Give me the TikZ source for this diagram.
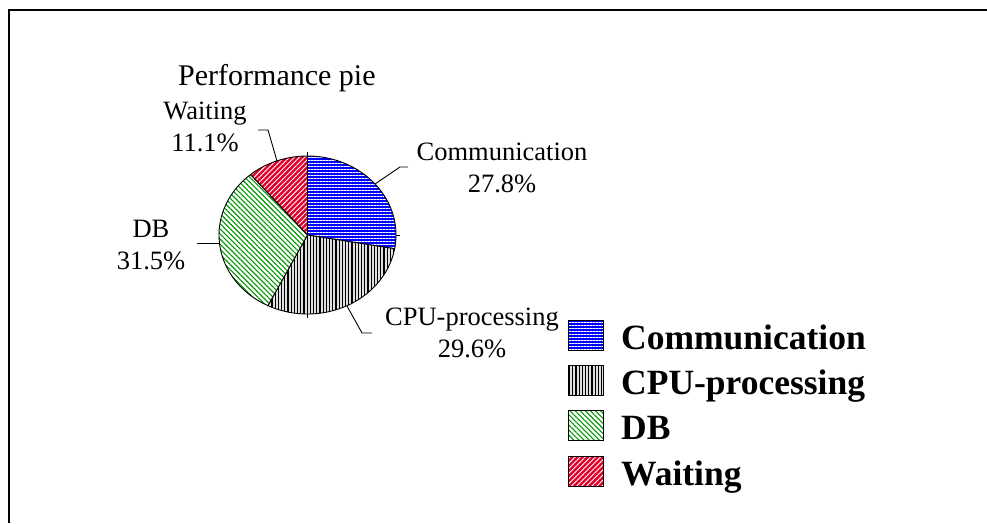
\documentclass[tikz,border=0pt]{standalone}
\usepackage{fontspec}
\setmainfont{Liberation Serif}
\usetikzlibrary{patterns.meta}
\definecolor{commblue}{RGB}{0,0,255}
\definecolor{waitred}{RGB}{225,0,45}
\definecolor{dbgreen}{RGB}{0,150,0}
\definecolor{cpugray}{RGB}{225,225,225}
\tikzset{
  commsty/.style={preaction={fill=commblue}, pattern={Lines[angle=0,distance=3pt,line width=0.9pt]}, pattern color=white},
  cpusty/.style={preaction={fill=cpugray}, pattern={Lines[angle=90,distance=3.2pt,line width=1.3pt]}, pattern color=black},
  dbsty/.style={preaction={fill=white}, pattern={Lines[angle=-45,distance=3.6pt,line width=1.1pt]}, pattern color=dbgreen},
  waitsty/.style={preaction={fill=waitred}, pattern={Lines[angle=45,distance=3.6pt,line width=0.9pt]}, pattern color=white},
  slice/.style={draw=black, line width=0.9pt, line join=round},
  lbl/.style={font=\fontsize{26.5}{32}\selectfont, align=center, inner sep=0pt},
  leader/.style={draw=black, line width=0.9pt},
  swatch/.style={draw=black, line width=0.9pt, minimum width=35pt, minimum height=30pt, inner sep=0pt},
  legtext/.style={font=\bfseries\fontsize{35.5}{40}\selectfont, anchor=base west, inner sep=0pt},
}
\begin{document}
\begin{tikzpicture}[x=1pt,y=-1pt]
\useasboundingbox (0,0) rectangle (987,523);
% frame
\draw[line width=1.6pt] (9,523) -- (9,10) -- (987,10);
% title
\node[font=\fontsize{30}{36}\selectfont, anchor=base west, inner sep=0pt] (title) at (178,85) {Performance pie};
% pie
\coordinate (c) at (307.5,235);
\path[slice, commsty] (c) -- ++(90:88.5pt and 79pt) arc[start angle=90, end angle=-10, x radius=88.5pt, y radius=79pt] -- cycle;
\path[slice, cpusty] (c) -- ++(-10:88.5pt and 79pt) arc[start angle=-10, end angle=-116.56, x radius=88.5pt, y radius=79pt] -- cycle;
\path[slice, dbsty] (c) -- ++(-116.56:88.5pt and 79pt) arc[start angle=-116.56, end angle=-230, x radius=88.5pt, y radius=79pt] -- cycle;
\path[slice, waitsty] (c) -- ++(-230:88.5pt and 79pt) arc[start angle=-230, end angle=-270, x radius=88.5pt, y radius=79pt] -- cycle;
% small axis ticks
\coordinate (ttop1) at (307.5,152); \coordinate (ttop2) at (307.5,156);
\coordinate (tbot1) at (307.5,314); \coordinate (tbot2) at (307.5,318);
\coordinate (trt1) at (396,235); \coordinate (trt2) at (400,235);
\draw[leader] (ttop1) -- (ttop2);
\draw[leader] (tbot1) -- (tbot2);
\draw[leader] (trt1) -- (trt2);
% labels
\node[lbl] (lcomm) at (502,168) {Communication\\27.8\%};
\node[lbl] (lcpu) at (472,333) {CPU-processing\\29.6\%};
\node[lbl] (ldb) at (151,245) {DB\\31.5\%};
\node[lbl] (lwait) at (205,127) {Waiting\\11.1\%};
% leaders
\coordinate (ecomm) at (375,184); \coordinate (kcomm) at (400,167); \coordinate (tcomm) at (408,167);
\draw[leader] (ecomm) -- (kcomm) -- (tcomm);
\coordinate (ecpu) at (347,306); \coordinate (kcpu) at (362,333); \coordinate (tcpu) at (372,333);
\draw[leader] (ecpu) -- (kcpu) -- (tcpu);
\coordinate (edb) at (219,243); \coordinate (tdb) at (197,243);
\draw[leader] (edb) -- (tdb);
\coordinate (ewait) at (277,161); \coordinate (kwait) at (268,130); \coordinate (twait) at (258,130);
\draw[leader] (ewait) -- (kwait) -- (twait);
% legend
\node[swatch, commsty] (sw1) at (585.5,335) {};
\node[swatch, cpusty] (sw2) at (585.5,380) {};
\node[swatch, dbsty] (sw3) at (585.5,425) {};
\node[swatch, waitsty] (sw4) at (585.5,471) {};
\node[legtext] (lg1) at (621,349) {Communication};
\node[legtext] (lg2) at (621,394) {CPU-processing};
\node[legtext] (lg3) at (621,439) {DB};
\node[legtext] (lg4) at (621,485) {Waiting};
\end{tikzpicture}
\end{document}
